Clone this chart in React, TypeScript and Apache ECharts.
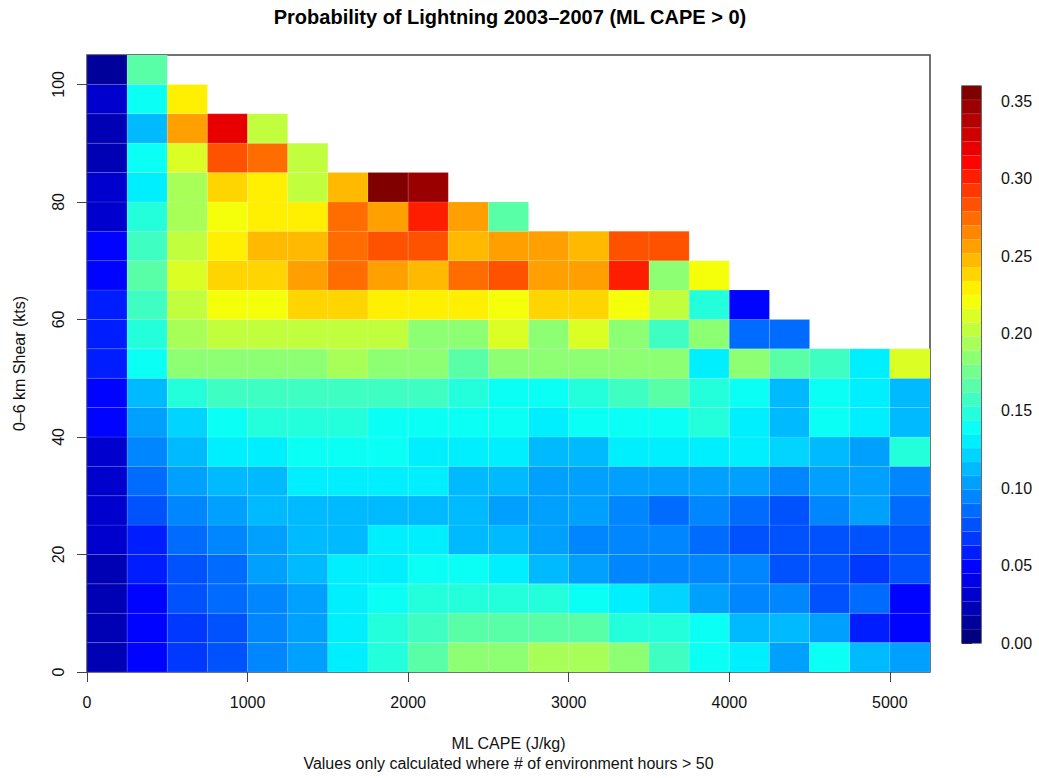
import React, { useEffect, useRef } from "react";
import * as echarts from "echarts";

// ---- bins ----
const capeBinStarts = [0, 250, 500, 750, 1000, 1250, 1500, 1750, 2000, 2250, 2500, 2750, 3000, 3250, 3500, 3750, 4000, 4250, 4500, 4750, 5000];
const shearBinStarts = [0, 5, 10, 15, 20, 25, 30, 35, 40, 45, 50, 55, 60, 65, 70, 75, 80, 85, 90, 95, 100];
const capeBinWidth = 250;
const shearBinWidth = 5;

// ---- probability of lightning, one row per shear bin (bottom to top), one value per CAPE bin ----
const _ = null;
const probRows: (number | null)[][] = [
  /* 0-5   */ [0.025, 0.052, 0.063, 0.075, 0.095, 0.107, 0.128, 0.148, 0.169, 0.180, 0.180, 0.197, 0.197, 0.188, 0.158, 0.135, 0.128, 0.107, 0.135, 0.115, 0.107],
  /* 5-10  */ [0.025, 0.052, 0.063, 0.075, 0.095, 0.107, 0.128, 0.148, 0.158, 0.169, 0.169, 0.169, 0.169, 0.148, 0.148, 0.135, 0.115, 0.115, 0.107, 0.057, 0.052],
  /* 10-15 */ [0.025, 0.052, 0.075, 0.085, 0.095, 0.107, 0.128, 0.135, 0.148, 0.148, 0.148, 0.148, 0.135, 0.128, 0.118, 0.104, 0.093, 0.093, 0.075, 0.085, 0.052],
  /* 15-20 */ [0.025, 0.062, 0.073, 0.085, 0.107, 0.115, 0.128, 0.128, 0.135, 0.135, 0.128, 0.115, 0.104, 0.093, 0.093, 0.093, 0.093, 0.075, 0.075, 0.063, 0.075],
  /* 20-25 */ [0.027, 0.062, 0.082, 0.093, 0.107, 0.115, 0.112, 0.128, 0.128, 0.115, 0.110, 0.104, 0.093, 0.093, 0.095, 0.085, 0.079, 0.075, 0.075, 0.073, 0.075],
  /* 25-30 */ [0.035, 0.073, 0.090, 0.100, 0.115, 0.115, 0.115, 0.115, 0.115, 0.115, 0.107, 0.104, 0.104, 0.093, 0.087, 0.093, 0.085, 0.075, 0.093, 0.104, 0.085],
  /* 30-35 */ [0.035, 0.085, 0.100, 0.115, 0.115, 0.128, 0.128, 0.128, 0.128, 0.115, 0.115, 0.104, 0.104, 0.100, 0.104, 0.104, 0.104, 0.093, 0.104, 0.104, 0.093],
  /* 35-40 */ [0.035, 0.093, 0.115, 0.128, 0.128, 0.135, 0.135, 0.135, 0.128, 0.128, 0.128, 0.115, 0.115, 0.128, 0.128, 0.128, 0.128, 0.118, 0.115, 0.104, 0.148],
  /* 40-45 */ [0.045, 0.100, 0.124, 0.135, 0.146, 0.146, 0.148, 0.135, 0.135, 0.135, 0.135, 0.128, 0.135, 0.135, 0.135, 0.148, 0.128, 0.115, 0.135, 0.128, 0.115],
  /* 45-50 */ [0.045, 0.115, 0.146, 0.158, 0.158, 0.158, 0.158, 0.158, 0.158, 0.148, 0.135, 0.135, 0.148, 0.158, 0.169, 0.148, 0.135, 0.115, 0.135, 0.128, 0.115],
  /* 50-55 */ [0.060, 0.135, 0.180, 0.180, 0.180, 0.180, 0.191, 0.180, 0.180, 0.169, 0.180, 0.180, 0.180, 0.180, 0.180, 0.128, 0.180, 0.169, 0.158, 0.128, 0.208],
  /* 55-60 */ [0.057, 0.146, 0.190, 0.199, 0.199, 0.199, 0.199, 0.199, 0.188, 0.188, 0.208, 0.188, 0.208, 0.188, 0.158, 0.180, 0.087, 0.087, _, _, _],
  /* 60-65 */ [0.057, 0.158, 0.199, 0.218, 0.218, 0.239, 0.239, 0.225, 0.225, 0.225, 0.218, 0.239, 0.239, 0.218, 0.199, 0.148, 0.052, _, _, _, _],
  /* 65-70 */ [0.045, 0.169, 0.208, 0.241, 0.239, 0.259, 0.270, 0.259, 0.250, 0.270, 0.279, 0.259, 0.259, 0.298, 0.188, 0.218, _, _, _, _, _],
  /* 70-75 */ [0.045, 0.158, 0.199, 0.225, 0.250, 0.250, 0.270, 0.287, 0.287, 0.250, 0.259, 0.259, 0.250, 0.279, 0.287, _, _, _, _, _, _],
  /* 75-80 */ [0.035, 0.146, 0.190, 0.218, 0.229, 0.229, 0.270, 0.259, 0.298, 0.259, 0.169, _, _, _, _, _, _, _, _, _, _],
  /* 80-85 */ [0.035, 0.128, 0.191, 0.239, 0.229, 0.199, 0.250, 0.360, 0.349, _, _, _, _, _, _, _, _, _, _, _, _],
  /* 85-90 */ [0.025, 0.135, 0.208, 0.287, 0.270, 0.199, _, _, _, _, _, _, _, _, _, _, _, _, _, _, _],
  /* 90-95 */ [0.025, 0.115, 0.259, 0.320, 0.199, _, _, _, _, _, _, _, _, _, _, _, _, _, _, _, _],
  /* 95-100*/ [0.027, 0.135, 0.225, _, _, _, _, _, _, _, _, _, _, _, _, _, _, _, _, _, _],
  /* 100-105*/[0.010, 0.169, _, _, _, _, _, _, _, _, _, _, _, _, _, _, _, _, _, _, _],
];

// ---- ticks ----
const capeTicks = [0, 1000, 2000, 3000, 4000, 5000];
const shearTicks = [0, 20, 40, 60, 80, 100];
const probTicks = [0, 0.05, 0.1, 0.15, 0.2, 0.25, 0.3, 0.35];

// ---- colour scale ----
const zMax = 0.36;
const nLevels = 40;

const titleText = "Probability of Lightning 2003\u20132007 (ML CAPE > 0)";
const xTitle = "ML CAPE (J/kg)";
const xSubTitle = "Values only calculated where # of environment hours > 50";
const yTitle = "0\u20136 km Shear (kts)";

const FONT = '"Liberation Sans", Arial, Helvetica, sans-serif';

function jet(t: number): string {
  const c = (x: number) => Math.round(255 * Math.min(1, Math.max(0, x)));
  const r = c(1.5 - Math.abs(4 * t - 3));
  const g = c(1.5 - Math.abs(4 * t - 2));
  const b = c(1.5 - Math.abs(4 * t - 1));
  return `rgb(${r},${g},${b})`;
}
function levelOf(v: number): number {
  return Math.min(nLevels - 1, Math.max(0, Math.floor((v / zMax) * nLevels)));
}
function colorOfLevel(i: number): string {
  return jet(i / (nLevels - 1));
}

export default function App() {
  const ref = useRef<HTMLDivElement>(null);
  useEffect(() => {
    if (!ref.current) return;
    const chart = echarts.init(ref.current, null, { renderer: "svg" });

    const cells: number[][] = [];
    probRows.forEach((row, r) =>
      row.forEach((v, c) => {
        if (v != null) cells.push([capeBinStarts[c], shearBinStarts[r], v]);
      })
    );
    const bands: number[][] = [];
    for (let i = 0; i < nLevels; i++) {
      bands.push([0, (i * zMax) / nLevels, ((i + 1) * zMax) / nLevels, i]);
    }

    const labelStyle = { fontSize: 16, fontFamily: FONT, color: "#111" };

    const option: any = {
      animation: false,
      backgroundColor: "#fff",
      graphic: [
        {
          type: "text",
          x: 510,
          y: 17,
          style: {
            text: titleText,
            textAlign: "center",
            textVerticalAlign: "middle",
            font: `bold 20px ${FONT}`,
            fill: "#000",
          },
        },
      ],
      grid: [
        { left: 87, top: 55, width: 843, height: 619, show: true, borderColor: "#444", borderWidth: 1.5, backgroundColor: "transparent" },
        { left: 962, top: 86, width: 19, height: 557, show: true, borderColor: "#000", borderWidth: 1.2, backgroundColor: "transparent" },
      ],
      xAxis: [
        {
          type: "value",
          gridIndex: 0,
          min: 0,
          max: 5250,
          interval: 1000,
          axisLine: { show: false },
          axisTick: { show: true, length: 10, lineStyle: { color: "#444", width: 1 }, customValues: capeTicks },
          axisLabel: { ...labelStyle, margin: 22, customValues: capeTicks, formatter: (v: number) => String(v) },
          splitLine: { show: false },
          name: xTitle + "\n" + xSubTitle,
          nameLocation: "middle",
          nameGap: 61,
          nameTextStyle: { ...labelStyle, lineHeight: 20 },
        },
        { type: "value", gridIndex: 1, min: 0, max: 1, show: false },
      ],
      yAxis: [
        {
          type: "value",
          gridIndex: 0,
          min: 0,
          max: 105,
          interval: 20,
          axisLine: { show: false },
          axisTick: { show: true, length: 10, lineStyle: { color: "#444", width: 1 }, customValues: shearTicks },
          axisLabel: { ...labelStyle, rotate: 90, margin: 21, customValues: shearTicks, formatter: (v: number) => String(v) },
          splitLine: { show: false },
          name: yTitle,
          nameLocation: "middle",
          nameGap: 60,
          nameTextStyle: { ...labelStyle },
        },
        {
          type: "value",
          gridIndex: 1,
          position: "right",
          min: 0,
          max: zMax,
          interval: 0.05,
          axisLine: { show: false },
          axisTick: { show: true, length: 10, lineStyle: { color: "#222", width: 1 }, customValues: probTicks },
          axisLabel: { ...labelStyle, margin: 20, customValues: probTicks, formatter: (v: number) => v.toFixed(2) },
          splitLine: { show: false },
        },
      ],
      series: [
        {
          type: "custom",
          xAxisIndex: 0,
          yAxisIndex: 0,
          data: cells,
          encode: { x: 0, y: 1 },
          clip: true,
          renderItem: (params: any, api: any) => {
            const x0 = api.value(0);
            const y0 = api.value(1);
            const v = api.value(2);
            const p0 = api.coord([x0, y0]);
            const p1 = api.coord([x0 + capeBinWidth, y0 + shearBinWidth]);
            return {
              type: "rect",
              shape: { x: p0[0], y: p1[1], width: p1[0] - p0[0], height: p0[1] - p1[1] },
              style: { fill: colorOfLevel(levelOf(v)), stroke: "rgba(255,255,255,0.2)", lineWidth: 0.6 },
            };
          },
        },
        {
          type: "custom",
          xAxisIndex: 1,
          yAxisIndex: 1,
          data: bands,
          encode: { x: 0, y: 1 },
          renderItem: (params: any, api: any) => {
            const lo = api.value(1);
            const hi = api.value(2);
            const i = api.value(3);
            const p0 = api.coord([0, lo]);
            const p1 = api.coord([1, hi]);
            return {
              type: "rect",
              shape: { x: p0[0], y: p1[1], width: p1[0] - p0[0], height: p0[1] - p1[1] },
              style: { fill: colorOfLevel(i), stroke: "rgba(255,255,255,0.15)", lineWidth: 0.4 },
            };
          },
        },
      ],
    };
    chart.setOption(option);
    return () => chart.dispose();
  }, []);

  return (
    <div
      ref={ref}
      style={{ position: "absolute", left: 0, top: 0, width: 1039, height: 778 }}
    />
  );
}
